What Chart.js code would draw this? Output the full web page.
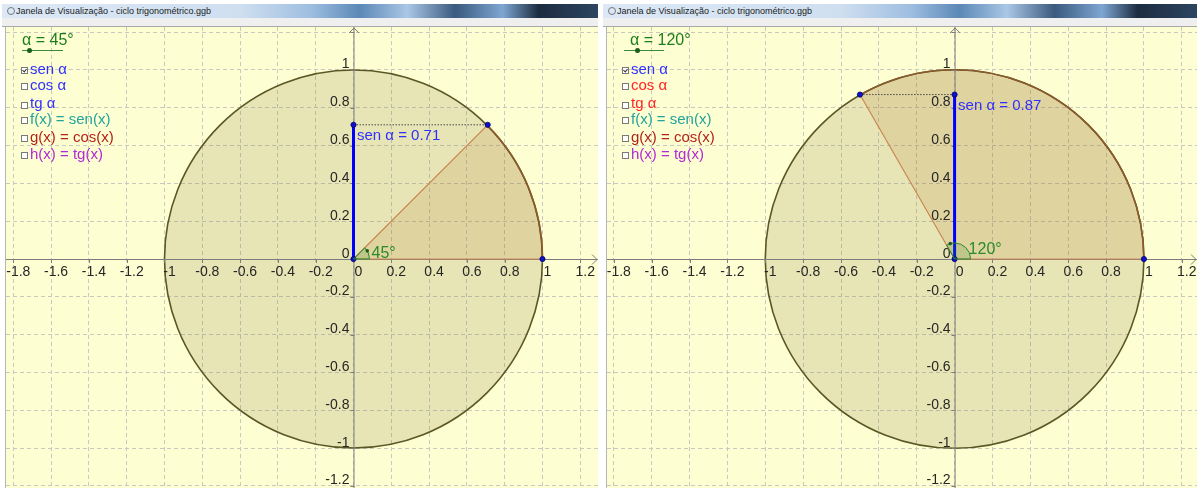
<!DOCTYPE html>
<html>
<head>
<meta charset="utf-8">
<script src="https://cdn.jsdelivr.net/npm/chart.js@4.4.1/dist/chart.umd.min.js"></script>
<style>
  body { margin: 0; width: 1200px; height: 488px; background: #fff; position: relative; overflow: hidden;
         font-family: "Liberation Sans", Arial, sans-serif; }
  .title { position: absolute; top: 4px; height: 14px;
           background: linear-gradient(90deg, #dce8f6 0%, #cfdff0 40%, #9dbde0 52%, #5b88b6 60%, #aac7e6 68%,
                       #3a5a7e 76%, #7ea6d2 84%, #1c2c40 90%, #2c4560 100%);
           font-size: 9px; color: #1a1a1a; line-height: 14px; white-space: nowrap; overflow: hidden; }
  .title i { position: absolute; left: 5px; top: 3px; width: 6px; height: 6px; border: 1px solid #777; border-radius: 50%; }
  .title span { position: absolute; left: 14px; }
  .strip { position: absolute; top: 18px; height: 8px; background: #efefef; border-bottom: 1px solid #a9a9a9; }
  canvas { position: absolute; top: 27px; background: #fefed3; }
  .txt { position: absolute; white-space: nowrap; font-size: 15px; line-height: 16px; }
  .box { position: absolute; width: 5px; height: 5px; border: 1px solid #7a7a7a; background: #fff; }
  .box.on::after { content: ""; position: absolute; left: 1px; top: 0px; width: 2px; height: 3px;
                   border-right: 1px solid #333; border-bottom: 1px solid #333; transform: rotate(40deg); }
  .slider { position: absolute; height: 1px; background: #3c8a3c; top: 50px; }
  .knob { position: absolute; width: 5px; height: 5px; border-radius: 50%; background: #1d5e1d; top: 48px; }
  .sep { position: absolute; top: 27px; width: 1px; height: 461px; background: #b5b5b5; }
</style>
</head>
<body>
<canvas id="cicloA" width="592" height="461" style="left:6px"></canvas>
<canvas id="cicloB" width="590" height="461" style="left:607px"></canvas>
<script>
const alphaDeg = [45, 120];
const pointX = [0.71, -0.5];
const pointY = [0.71, 0.87];
const sinText = ["sen α = 0.71", "sen α = 0.87"];
const sliderText = ["α = 45°", "α = 120°"];
const angleText = ["45°", "120°"];
const xTicks = [-1.8, -1.6, -1.4, -1.2, -1, -0.8, -0.6, -0.4, -0.2, 0, 0.2, 0.4, 0.6, 0.8, 1, 1.2];
const yTicks = [-1.2, -1, -0.8, -0.6, -0.4, -0.2, 0, 0.2, 0.4, 0.6, 0.8, 1, 1.2];
const menuLabels = ["sen α", "cos α", "tg α", "f(x) = sen(x)", "g(x) = cos(x)", "h(x) = tg(x)"];
const menuChecked = [true, false, false, false, false, false];
const menuColors = [
    ["#3030ff", "#3030ff", "#3030ff", "#22a49c", "#b3231c", "#b22ad4"],
    ["#3030ff", "#ff2424", "#ff2424", "#22a49c", "#b3231c", "#b22ad4"],
];

// layout das janelas (pixels / janela de visualizacao)
const panels = [
    { id: "cicloA", frameLeft: 2, frameWidth: 596, canvasLeft: 6, xMin: -1.8386, xMax: 1.2937,
      menuX: 30, boxX: 21, titleX: 22, sliderX: 22, sliderW: 41, knobX: 27, angleDx: 18, angleDy: -1 },
    { id: "cicloB", frameLeft: 603, frameWidth: 594, canvasLeft: 607, xMin: -1.836, xMax: 1.2804,
      menuX: 631, boxX: 622, titleX: 630, sliderX: 624, sliderW: 40, knobX: 635, angleDx: 14, angleDy: -5.5 },
];
const yMin = -1.2116, yMax = 1.2275;
const menuBase = [74, 90, 108.5, 124, 142, 159];

const fmt = (v) => String(Math.round(v * 10) / 10);
const FONT = '"Liberation Sans", Arial, sans-serif';

function addEl(cls, style, text) {
    const el = document.createElement("div");
    el.className = cls;
    Object.assign(el.style, style);
    if (text) el.textContent = text;
    document.body.appendChild(el);
    return el;
}

function buildFrame(p, i) {
    const t = addEl("title", { left: p.frameLeft + "px", width: p.frameWidth + "px" });
    t.innerHTML = "<i></i><span>Janela de Visualização - ciclo trigonométrico.ggb</span>";
    addEl("strip", { left: p.frameLeft + "px", width: p.frameWidth + "px" });
    addEl("sep", { left: p.canvasLeft - 1 + "px" });

    addEl("txt", { left: p.titleX + "px", top: "31px", fontSize: "16px", lineHeight: "18px", color: "#1f7d1f" }, sliderText[i]);
    addEl("slider", { left: p.sliderX + "px", width: p.sliderW + "px" });
    addEl("knob", { left: p.knobX + "px" });

    menuLabels.forEach((label, k) => {
        addEl("box" + (menuChecked[k] ? " on" : ""), { left: p.boxX + "px", top: menuBase[k] - 7 + "px" });
        addEl("txt", { left: p.menuX + "px", top: menuBase[k] - 13.2 + "px", color: menuColors[i][k] }, label);
    });
}

const unitCircle = {
    id: "unitCircle",
    beforeDatasetsDraw(chart, args, opts) {
        const i = opts.panel;
        const { ctx, chartArea: area } = chart;
        const xs = chart.scales.x, ys = chart.scales.y;
        const cx = xs.getPixelForValue(0), cy = ys.getPixelForValue(0);
        const r = xs.getPixelForValue(1) - cx;
        const a = (alphaDeg[i] * Math.PI) / 180;
        ctx.save();

        // circulo e setor
        ctx.beginPath();
        ctx.arc(cx, cy, r, 0, 2 * Math.PI);
        ctx.fillStyle = "rgba(140,130,60,0.2)";
        ctx.fill();
        ctx.beginPath();
        ctx.moveTo(cx, cy);
        ctx.arc(cx, cy, r, 0, -a, true);
        ctx.closePath();
        ctx.fillStyle = "rgba(180,110,40,0.15)";
        ctx.fill();
        ctx.lineWidth = 1.6;
        ctx.beginPath();
        ctx.arc(cx, cy, r, 0, 2 * Math.PI);
        ctx.strokeStyle = "#5a5726";
        ctx.stroke();
        ctx.beginPath();
        ctx.arc(cx, cy, r, 0, -a, true);
        ctx.strokeStyle = "#8a5a2c";
        ctx.stroke();

        // eixos
        ctx.strokeStyle = "#7d7d7d";
        ctx.lineWidth = 1;
        ctx.beginPath();
        ctx.moveTo(area.left, cy + 0.5);
        ctx.lineTo(area.right, cy + 0.5);
        ctx.moveTo(cx + 0.5, area.top);
        ctx.lineTo(cx + 0.5, area.bottom);
        // setas
        ctx.moveTo(cx - 4.5, area.top + 6);
        ctx.lineTo(cx + 0.5, area.top + 1);
        ctx.lineTo(cx + 5.5, area.top + 6);
        ctx.moveTo(area.right - 6, cy - 4.5);
        ctx.lineTo(area.right - 1, cy + 0.5);
        ctx.lineTo(area.right - 6, cy + 5.5);
        xTicks.forEach((v) => {
            const px = Math.round(xs.getPixelForValue(v)) + 0.5;
            ctx.moveTo(px, cy);
            ctx.lineTo(px, cy + 4);
        });
        yTicks.forEach((v) => {
            const py = Math.round(ys.getPixelForValue(v)) + 0.5;
            ctx.moveTo(cx - 3, py);
            ctx.lineTo(cx + 1, py);
        });
        ctx.stroke();

        // rotulos dos eixos
        ctx.fillStyle = "#262626";
        ctx.font = "14px " + FONT;
        ctx.textBaseline = "alphabetic";
        ctx.textAlign = "center";
        xTicks.forEach((v) => {
            ctx.fillText(fmt(v), xs.getPixelForValue(v) + 5, cy + 17);
        });
        ctx.textAlign = "right";
        yTicks.forEach((v) => {
            const py = ys.getPixelForValue(v);
            if (py < area.top + 12) return;
            ctx.fillText(fmt(v), cx - 4, py - 1.5);
        });
        ctx.restore();
    },
    afterDatasetsDraw(chart, args, opts) {
        const i = opts.panel;
        const p = panels[i];
        const { ctx } = chart;
        const xs = chart.scales.x, ys = chart.scales.y;
        const cx = xs.getPixelForValue(0), cy = ys.getPixelForValue(0);
        const a = (alphaDeg[i] * Math.PI) / 180;
        ctx.save();
        // marca do angulo
        ctx.beginPath();
        ctx.moveTo(cx, cy);
        ctx.arc(cx, cy, 16, 0, -a, true);
        ctx.closePath();
        ctx.fillStyle = "rgba(40,140,40,0.18)";
        ctx.fill();
        ctx.strokeStyle = "#2a8c2a";
        ctx.lineWidth = 1;
        ctx.stroke();
        const d = a - 0.25;
        ctx.beginPath();
        ctx.arc(cx + 16 * Math.cos(d), cy - 16 * Math.sin(d), 1.8, 0, 2 * Math.PI);
        ctx.fillStyle = "#1c5c1c";
        ctx.fill();

        ctx.font = "16px " + FONT;
        ctx.fillStyle = "#2a8c2a";
        ctx.textAlign = "left";
        ctx.fillText(angleText[i], cx + p.angleDx, cy + p.angleDy);

        ctx.font = "15px " + FONT;
        ctx.fillStyle = "#2f2fff";
        ctx.fillText(sinText[i], cx + 3.5, ys.getPixelForValue(pointY[i]) + 15.5);
        ctx.restore();
    },
};

function renderCiclo(i) {
    const p = panels[i];
    buildFrame(p, i);
    const ctx = document.getElementById(p.id).getContext("2d");
    const px = pointX[i], py = pointY[i];

    new Chart(ctx, {
        type: "scatter",
        data: {
            datasets: [
                {
                    data: [{ x: px, y: py }, { x: 0, y: py }, { x: 0, y: 0 }, { x: 1, y: 0 }],
                    showLine: false,
                    pointRadius: 2.6,
                    pointBackgroundColor: "#1010c8",
                    pointBorderColor: "#000070",
                    pointBorderWidth: 0.8,
                    order: 0,
                },
                {
                    data: [{ x: 0, y: 0 }, { x: 0, y: py }],
                    showLine: true,
                    borderColor: "#0000ff",
                    borderWidth: 3,
                    pointRadius: 0,
                    order: 1,
                },
                {
                    data: [{ x: 0, y: py }, { x: px, y: py }],
                    showLine: true,
                    borderColor: "#4a4a4a",
                    borderWidth: 1,
                    borderDash: [1.5, 1.5],
                    pointRadius: 0,
                    order: 2,
                },
                {
                    data: [{ x: 1, y: 0 }, { x: 0, y: 0 }, { x: px, y: py }],
                    showLine: true,
                    borderColor: "#c98752",
                    borderWidth: 1.2,
                    pointRadius: 0,
                    order: 3,
                },
            ],
        },
        options: {
            responsive: false,
            animation: false,
            layout: { padding: 0, autoPadding: false },
            events: [],
            plugins: {
                legend: { display: false },
                tooltip: { enabled: false },
                unitCircle: { panel: i },
            },
            scales: {
                x: {
                    type: "linear",
                    min: p.xMin,
                    max: p.xMax,
                    afterBuildTicks: (s) => { s.ticks = xTicks.map((v) => ({ value: v })); },
                    afterFit: (s) => { s.height = 0; s.paddingLeft = 0; s.paddingRight = 0; },
                    ticks: { display: false },
                    grid: { color: "#c9c9bf", lineWidth: 1, drawTicks: false },
                    border: { display: false, dash: [4, 3] },
                },
                y: {
                    type: "linear",
                    min: yMin,
                    max: yMax,
                    afterBuildTicks: (s) => { s.ticks = yTicks.map((v) => ({ value: v })); },
                    afterFit: (s) => { s.width = 0; s.paddingTop = 0; s.paddingBottom = 0; },
                    ticks: { display: false },
                    grid: { color: "#c9c9bf", lineWidth: 1, drawTicks: false },
                    border: { display: false, dash: [4, 3] },
                },
            },
        },
        plugins: [unitCircle],
    });
}

document.addEventListener("DOMContentLoaded", function () {
    renderCiclo(0);
    renderCiclo(1);
});
</script>
</body>
</html>
